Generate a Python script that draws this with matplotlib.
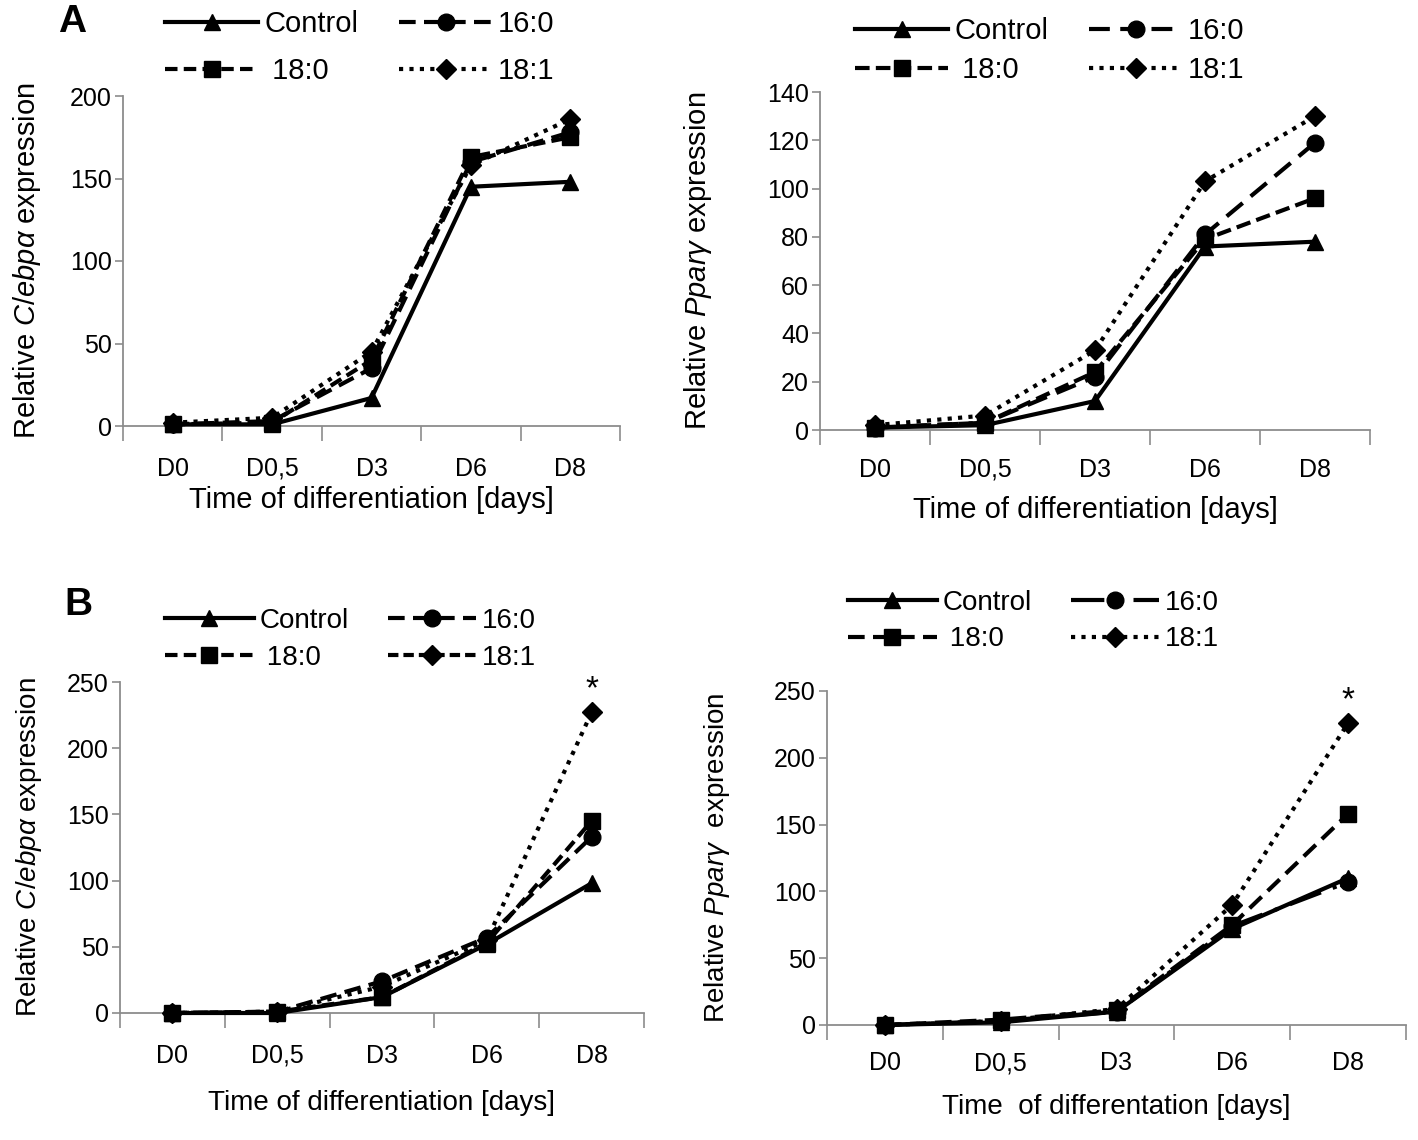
import matplotlib
matplotlib.use("Agg")
import matplotlib.pyplot as plt
from matplotlib.lines import Line2D

plt.rcParams['mathtext.fontset'] = 'custom'
plt.rcParams['mathtext.rm'] = 'Liberation Sans'
plt.rcParams['mathtext.it'] = 'Liberation Sans:italic'
plt.rcParams['font.family'] = ['Liberation Sans', 'DejaVu Sans']

categories = ["D0", "D0,5", "D3", "D6", "D8"]
series_names = ["Control", "16:0", "18:0", "18:1"]

# Panel A, C/ebpa
a1_control = [1, 1, 17, 145, 148]
a1_160 = [1, 3, 35, 160, 178]
a1_180 = [1, 2, 40, 163, 175]
a1_181 = [2, 5, 45, 158, 186]

# Panel A, Ppar gamma
a2_control = [1, 2, 12, 76, 78]
a2_160 = [1, 3, 22, 81, 119]
a2_180 = [1, 3, 24, 79, 96]
a2_181 = [2, 6, 33, 103, 130]

# Panel B, C/ebpa
b1_control = [0, 0, 12, 52, 98]
b1_160 = [0, 1, 24, 57, 133]
b1_180 = [0, 1, 12, 53, 145]
b1_181 = [0, 1, 20, 55, 227]

# Panel B, Ppar gamma
b2_control = [0, 2, 10, 72, 110]
b2_160 = [0, 3, 10, 74, 107]
b2_180 = [0, 4, 11, 75, 158]
b2_181 = [0, 3, 12, 90, 226]

W, H = 1418, 1140
fig = plt.figure(figsize=(W / 100, H / 100), dpi=100)

def px_axes(x0, x1, y_top, y_bot):
    return fig.add_axes([x0 / W, 1 - y_bot / H, (x1 - x0) / W, (y_bot - y_top) / H])

markers = ['^', 'o', 's', 'D']
GRAY = '#8c8c8c'

def draw_panel(ax, data, styles, ymax, ystep, ylabel, xlabel, font, tick_fs, lab_fs,
               ylab_x, xlab_y_px, xpad=22, star=False, legend_styles=None, leg_anchor=None,
               leg_spacing=0.6):
    xs = list(range(len(categories)))
    handles = []
    for vals, ls, mk, name in zip(data, styles, markers, series_names):
        ms = 12 if mk != 'D' else 10
        ln, = ax.plot(xs, vals, color='black', lw=3, linestyle=ls, marker=mk,
                      markersize=ms, clip_on=False, zorder=3)
        handles.append(ln)
    if legend_styles is not None:
        handles = [Line2D([], [], color='black', lw=3, linestyle=ls, marker=mk,
                          markersize=(12 if mk != 'D' else 10))
                   for ls, mk in zip(legend_styles, markers)]
    ax.set_xlim(-0.5, len(categories) - 0.5)
    ax.set_ylim(0, ymax)
    ax.set_yticks(list(range(0, ymax + 1, ystep)))
    ax.set_xticks(xs)
    ax.set_xticklabels(categories, family=font, fontsize=tick_fs)
    for t in ax.get_yticklabels():
        t.set_family(font)
        t.set_fontsize(tick_fs)
    ax.set_xticks([x - 0.5 for x in range(len(categories) + 1)], minor=True)
    ax.tick_params(axis='x', which='major', length=0, pad=xpad)
    ax.tick_params(axis='x', which='minor', length=11, width=1.2, color=GRAY, direction='out')
    ax.tick_params(axis='y', which='major', length=6, width=1.2, color=GRAY, pad=2)
    for s in ['top', 'right']:
        ax.spines[s].set_visible(False)
    for s in ['left', 'bottom']:
        ax.spines[s].set_color(GRAY)
        ax.spines[s].set_linewidth(1.3)
    ax.set_ylabel(ylabel, fontsize=lab_fs, family=['Liberation Sans', 'DejaVu Sans'])
    ax.yaxis.set_label_coords(ylab_x, 0.5)
    ax.set_xlabel(xlabel, fontsize=lab_fs, family=font)
    bb = ax.get_position()
    ax.xaxis.set_label_coords(0.5, (1 - xlab_y_px / H - bb.y0) / bb.height)
    ax.xaxis.label.set_va('center')
    if star:
        ax.annotate('*', xy=(xs[-1], data[3][-1]), xytext=(0, 5), textcoords='offset points',
                    ha='center', va='bottom', fontsize=24, family=['Liberation Sans'])
    order = [handles[0], handles[2], handles[1], handles[3]]
    labels = [series_names[0], ' ' + series_names[2], series_names[1], series_names[3]]
    fig.legend(order, labels, loc='upper left', bbox_to_anchor=leg_anchor, ncol=2,
               frameon=False, prop={'family': font, 'size': lab_fs}, handlelength=3.2,
               handletextpad=0.2, columnspacing=1.4, labelspacing=leg_spacing, borderpad=0,
               borderaxespad=0)
    return ax

font_a = ['Liberation Sans', 'DejaVu Sans']
arial = ['Liberation Sans', 'DejaVu Sans']
ceb_label = 'Relative $\\mathit{C}$/$\\mathit{ebp\\alpha}$ expression'

ax1 = px_axes(123, 620, 96, 426)
draw_panel(ax1, [a1_control, a1_160, a1_180, a1_181],
           ['-', (0, (4, 2)), (0, (3, 1.5)), (0, (1, 1.5))],
           200, 50, ceb_label,
           'Time of differentiation [days]', font_a, 18, 21, -0.16, 500,
           leg_anchor=(165 / W, 1 - 10 / H), leg_spacing=0.65)

ax2 = px_axes(820, 1370, 92, 430)
draw_panel(ax2, [a2_control, a2_160, a2_180, a2_181],
           ['-', (0, (5, 2.5)), (0, (3.5, 1.5)), (0, (1, 1.5))],
           140, 20, 'Relative $\\mathit{Ppar\\gamma}$ expression',
           'Time of differentiation [days]', font_a, 18, 21, -0.193, 510, xpad=20,
           leg_anchor=(855 / W, 1 - 17 / H), leg_spacing=0.37)

ax3 = px_axes(120, 644, 682, 1013)
draw_panel(ax3, [b1_control, b1_160, b1_180, b1_181],
           ['-', (0, (4, 2)), (0, (3, 1.5)), (0, (1, 1.5))],
           250, 50, ceb_label,
           'Time of differentiation [days]', arial, 18, 20, -0.145, 1103, star=True,
           legend_styles=['-', (0, (4, 2)), (0, (3, 1.5)), (0, (2.5, 1.2))],
           leg_anchor=(165 / W, 1 - 608 / H), leg_spacing=0.4)

ax4 = px_axes(827, 1406, 691, 1025)
draw_panel(ax4, [b2_control, b2_160, b2_180, b2_181],
           ['-', (0, (8, 3, 1, 3)), (0, (4, 2)), (0, (1, 1.5))],
           250, 50, 'Relative $\\mathit{Ppar\\gamma}$  expression',
           'Time  of differentation [days]', arial, 18, 20, -0.164, 1107, xpad=19, star=True,
           leg_anchor=(848 / W, 1 - 590 / H), leg_spacing=0.37)

fig.text(58 / W, 1 - 22 / H, 'A', fontsize=28, fontweight='bold', ha='left', va='center',
         family=arial)
fig.text(64 / W, 1 - 605 / H, 'B', fontsize=28, fontweight='bold', ha='left', va='center',
         family=arial)

fig.savefig('out.png', dpi=100, facecolor='white')
